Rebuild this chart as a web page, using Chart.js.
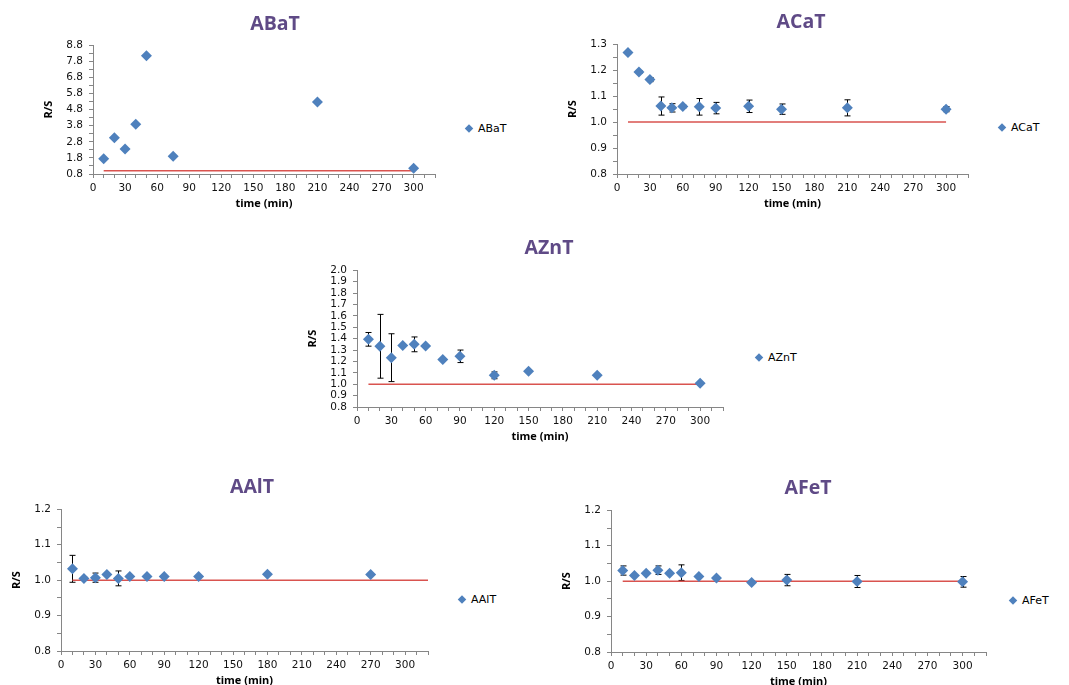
<!DOCTYPE html>
<html><head><meta charset="utf-8">
<script src="https://cdn.jsdelivr.net/npm/chart.js@4"></script>
<style>
html,body{margin:0;padding:0;background:#fff;width:1069px;height:685px;overflow:hidden;position:relative;}
.ttl{position:absolute;transform:translate(-50%,-50%);font:bold 19.5px "Open Sans",sans-serif;color:#5f4a86;white-space:nowrap}
.leg{position:absolute;transform:translateY(-50%);font:11px "DejaVu Sans",sans-serif;color:#000;white-space:nowrap;display:flex;align-items:center}
.leg i{display:inline-block;width:6px;height:6px;background:#4f81bd;transform:rotate(45deg);margin-right:6px}
canvas{position:absolute}
</style></head><body>
<script>
// ---- data ----
const timeBa = [10,20,30,40,50,75,210,300];
const valBa  = [1.75,3.05,2.35,3.9,8.15,1.9,5.27,1.15];
const errBa  = [0,0,0,0,0,0,0,0];

const timeCa = [10,20,30,40,50,60,75,90,120,150,210,300];
const valCa  = [1.268,1.193,1.164,1.062,1.055,1.06,1.059,1.054,1.061,1.05,1.055,1.05];
const errCa  = [0.004,0.005,0.008,0.035,0.016,0.005,0.032,0.022,0.024,0.02,0.031,0.01];

const timeZn = [10,20,30,40,50,60,75,90,120,150,210,300];
const valZn  = [1.394,1.333,1.233,1.339,1.35,1.336,1.216,1.245,1.078,1.113,1.078,1.008];
const errZn  = [0.06,0.28,0.21,0,0.065,0,0,0.055,0.03,0,0,0];

const timeAl = [10,20,30,40,50,60,75,90,120,180,270];
const valAl  = [1.032,1.005,1.007,1.016,1.005,1.01,1.01,1.01,1.01,1.017,1.016];
const errAl  = [0.038,0.003,0.013,0,0.021,0,0,0,0,0,0];

const timeFe = [10,20,30,40,50,60,75,90,120,150,210,300];
const valFe  = [1.03,1.016,1.022,1.031,1.022,1.024,1.013,1.009,0.996,1.003,0.999,0.998];
const errFe  = [0.013,0,0,0.012,0,0.022,0,0,0,0.016,0.017,0.015];

const refLevel = 1.0;
const refBa = [10,300], refCa = [10,300], refZn = [10,300], refAl = [10,320], refFe = [10,300];

const xTickLabels = [0,30,60,90,120,150,180,210,240,270,300];
const yTicksBa = [0.8,1.8,2.8,3.8,4.8,5.8,6.8,7.8,8.8];
const yTicksCa = [0.8,0.9,1.0,1.1,1.2,1.3];
const yTicksZn = [0.8,0.9,1.0,1.1,1.2,1.3,1.4,1.5,1.6,1.7,1.8,1.9,2.0];
const yTicksAl = [0.8,0.9,1.0,1.1,1.2];
const yTicksFe = [0.8,0.9,1.0,1.1,1.2];

// ---- rendering ----
const errorBars = {
  id:'errorBars',
  beforeDatasetsDraw(chart){
    const ds = chart.data.datasets[0]; const errs = ds.errors; if(!errs) return;
    const xs = chart.scales.x, ys = chart.scales.y, ctx = chart.ctx;
    ctx.save(); ctx.strokeStyle='#000'; ctx.lineWidth=1;
    ds.data.forEach((p,i)=>{
      const e = errs[i]; if(!e) return;
      const x = Math.round(xs.getPixelForValue(p.x))+0.5;
      const y1 = ys.getPixelForValue(p.y+e), y2 = ys.getPixelForValue(p.y-e);
      ctx.beginPath();
      ctx.moveTo(x,y1); ctx.lineTo(x,y2);
      ctx.moveTo(x-3,y1); ctx.lineTo(x+3,y1);
      ctx.moveTo(x-3,y2); ctx.lineTo(x+3,y2);
      ctx.stroke();
    });
    ctx.restore();
  }
};

function near(list, v){ return list.find(t => Math.abs(t - v) < 1e-6); }

function makeChart(o){
  const YW = 55, XH = 39, PT = 12, PR = 12;
  const left = o.plot[0]-YW, top = o.plot[1]-PT;
  const w = o.plot[2]+PR-left, h = o.plot[3]+XH-top;
  const c = document.createElement('canvas');
  c.width = w; c.height = h;
  c.style.left = left+'px'; c.style.top = top+'px';
  c.style.width = w+'px'; c.style.height = h+'px';
  document.body.appendChild(c);

  const t = document.createElement('div');
  t.className='ttl'; t.textContent=o.name;
  t.style.left=o.title[0]+'px'; t.style.top=o.title[1]+'px';
  document.body.appendChild(t);

  const l = document.createElement('div');
  l.className='leg'; l.innerHTML='<i></i>'+o.name;
  l.style.left=o.legend[0]+'px'; l.style.top=o.legend[1]+'px';
  document.body.appendChild(l);

  const axisCol = '#868686';
  const tickFont = {family:'DejaVu Sans', size:10.5};
  new Chart(c, {
    type:'scatter',
    data:{datasets:[
      {label:o.name, data:o.x.map((x,i)=>({x, y:o.y[i]})), errors:o.err,
       pointStyle:'rectRot', pointRadius:5.5, pointHoverRadius:5.5,
       backgroundColor:'#4f81bd', borderColor:'#4f81bd', borderWidth:0, showLine:false},
      {label:'ref', data:o.ref.map(x=>({x, y:refLevel})), showLine:true,
       borderColor:'#d9534f', borderWidth:1.5, pointRadius:0, pointHoverRadius:0, fill:false}
    ]},
    options:{
      responsive:false, animation:false, devicePixelRatio:1,
      layout:{padding:{top:PT, right:PR, left:0, bottom:0}},
      plugins:{legend:{display:false}, tooltip:{enabled:false}},
      scales:{
        x:{type:'linear', min:0, max:320,
           afterFit(s){ s.height = XH; },
           border:{display:true, color:axisCol, width:1},
           grid:{display:true, drawOnChartArea:false, drawTicks:true, tickLength:4, color:axisCol},
           ticks:{stepSize:10, autoSkip:false, maxRotation:0, includeBounds:false, maxTicksLimit:100, padding:4,
                  color:'#111', font:tickFont,
                  callback:v=>{ const m = near(xTickLabels, v); return m===undefined ? '' : String(m); }},
           title:{display:true, text:'time (min)', color:'#000', font:{family:'Open Sans', size:11, weight:'bold'}, padding:{top:2,bottom:3}}},
        y:{type:'linear', min:o.yt[0], max:o.yt[o.yt.length-1],
           afterFit(s){ s.width = YW; },
           border:{display:true, color:axisCol, width:1},
           grid:{display:true, drawOnChartArea:false, drawTicks:true, tickLength:4, color:axisCol},
           ticks:{stepSize:o.ystep, autoSkip:false, includeBounds:false, maxTicksLimit:200, padding:6,
                  color:'#111', font:tickFont,
                  callback:v=>{ const m = near(o.yt, v); return m===undefined ? '' : m.toFixed(1); }},
           title:{display:true, text:'R/S', color:'#000', font:{family:'Open Sans', size:11, weight:'bold'}, padding:{top:4,bottom:4}}}
      }
    },
    plugins:[errorBars]
  });
}

makeChart({name:'ABaT', x:timeBa, y:valBa, err:errBa, ref:refBa, yt:yTicksBa, ystep:0.5,
  plot:[93,45,435,174], title:[275,22], legend:[466,128]});
makeChart({name:'ACaT', x:timeCa, y:valCa, err:errCa, ref:refCa, yt:yTicksCa, ystep:0.05,
  plot:[617,44,968,174], title:[801,20], legend:[999,127]});
makeChart({name:'AZnT', x:timeZn, y:valZn, err:errZn, ref:refZn, yt:yTicksZn, ystep:0.1,
  plot:[357,270,723,407], title:[549,246], legend:[756,357]});
makeChart({name:'AAlT', x:timeAl, y:valAl, err:errAl, ref:refAl, yt:yTicksAl, ystep:0.05,
  plot:[61,509,428,651], title:[252,485], legend:[459,599]});
makeChart({name:'AFeT', x:timeFe, y:valFe, err:errFe, ref:refFe, yt:yTicksFe, ystep:0.05,
  plot:[611,510,986,652], title:[808,486], legend:[1010,600]});
</script>
</body></html>
